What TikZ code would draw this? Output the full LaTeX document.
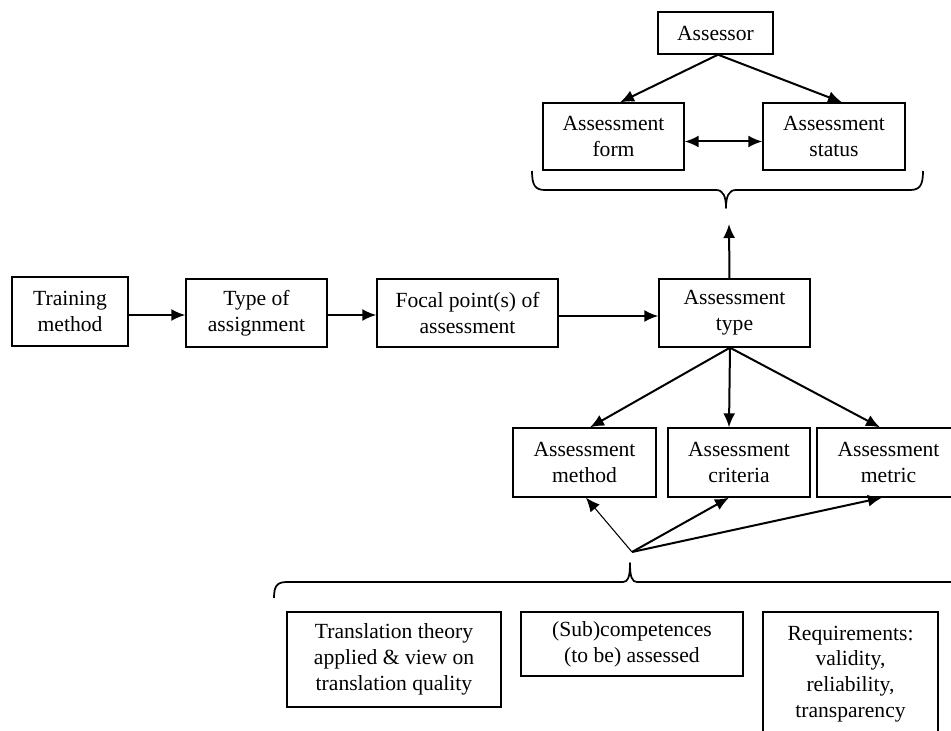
\documentclass[tikz,border=0pt]{standalone}
\usepackage{fontspec}
\setmainfont{Liberation Serif}
\usetikzlibrary{arrows.meta,calc}
\tikzset{
  bx/.style n args={2}{draw, line width=1pt, align=center, inner sep=2pt,
    font=\fontsize{16.2}{19.3}\selectfont,
    minimum width=#1*0.75pt, minimum height=#2*0.75pt},
  arr/.style={line width=1.5pt, -{Latex[length=10.5pt,width=9pt]}},
  thinarr/.style={line width=0.8pt, -{Latex[length=10.5pt,width=9pt]}},
  dblarr/.style={line width=1.5pt, {Latex[length=10.5pt,width=9pt]}-{Latex[length=10.5pt,width=9pt]}},
  bracepath/.style={line width=1.3pt, line join=round}
}
\begin{document}
\begin{tikzpicture}[x=0.75pt,y=-0.75pt]
\useasboundingbox (0,0) rectangle (951,731);
\clip (0,0) rectangle (951,731);
\fill[white] (0,0) rectangle (951,731);

% top cluster
\node[bx={115}{42}] (assessor) at (715.5,33) {Assessor};
\node[bx={141}{67}] (aform) at (613.5,136.5) {Assessment\\form};
\node[bx={142}{67}] (astatus) at (834,136.5) {Assessment\\status};

% main row
\node[bx={116}{69}] (train) at (70,311.5) {Training\\method};
\node[bx={141}{68}] (toa) at (256.5,313) {Type of\\assignment};
\node[bx={181}{68}] (focal) at (467.5,313) {Focal point(s) of\\assessment};
\node[bx={151}{68}] (atype) at (734.5,313) {Assessment\\type};

% second row
\node[bx={143}{69}] (amethod) at (584.5,462.5) {Assessment\\method};
\node[bx={142}{69}] (acrit) at (739,462.5) {Assessment\\criteria};
\node[bx={143}{69}] (ametric) at (888.5,462.5) {Assessment\\metric};

% bottom row
\node[bx={214}{95}] (theory) at (394,659.5) {Translation theory\\applied \& view on\\translation quality};
\node[bx={222}{64}] (subc) at (632,644) {(Sub)competences\\(to be) assessed};
\node[bx={175}{124}] (req) at (850.5,674) {Requirements:\\validity,\\reliability,\\transparency};

% coordinates
\coordinate (ttip) at (726,208);
\coordinate (tarr) at (729,224);
\coordinate (fan) at (632,552);
\coordinate (btip) at (630,563);

% top brace
\draw[bracepath] (532,171) .. controls (532,185) and (535,190) .. (545,190)
  -- (716,190) .. controls (723,190) and (726,196) .. (ttip)
  .. controls (726,196) and (729,190) .. (736,190)
  -- (910,190) .. controls (920,190) and (923,185) .. (923,171);

% bottom brace
\draw[bracepath] (274,598) .. controls (274,586) and (277,582) .. (287,582)
  -- (623,582) .. controls (628,582) and (630,577) .. (btip)
  .. controls (630,577) and (632,582) .. (637,582)
  -- (973,582) .. controls (983,582) and (986,586) .. (986,598);

% arrows
\draw[arr] ($(assessor.south)+(2.5,0)$) -- ($(aform.north)+(6.5,0)$);
\draw[arr] ($(assessor.south)+(2.5,0)$) -- ($(astatus.north)+(8,0)$);
\draw[dblarr] ($(aform.east)+(0,5)$) -- ($(astatus.west)+(0,5)$);

\draw[arr] ($(train.east)+(0,3.5)$) -- ($(toa.west)+(0,2)$);
\draw[arr] ($(toa.east)+(0,2)$) -- ($(focal.west)+(0,2)$);
\draw[arr] ($(focal.east)+(0,3)$) -- ($(atype.west)+(0,3)$);

\draw[arr] ($(atype.north)+(-5,0)$) -- (tarr);

\draw[arr] ($(atype.south)+(-4.5,0)$) -- ($(amethod.north)+(5.5,0)$);
\draw[arr] ($(atype.south)+(-4.5,0)$) -- ($(acrit.north)+(-10,0)$);
\draw[arr] ($(atype.south)+(-4.5,0)$) -- ($(ametric.north)+(-8.5,0)$);

\draw[thinarr] (fan) -- ($(amethod.south)+(1.5,0)$);
\draw[arr] (fan) -- ($(acrit.south)+(-10,0)$);
\draw[arr] (fan) -- ($(ametric.south)+(-6.5,0)$);
\end{tikzpicture}
\end{document}
